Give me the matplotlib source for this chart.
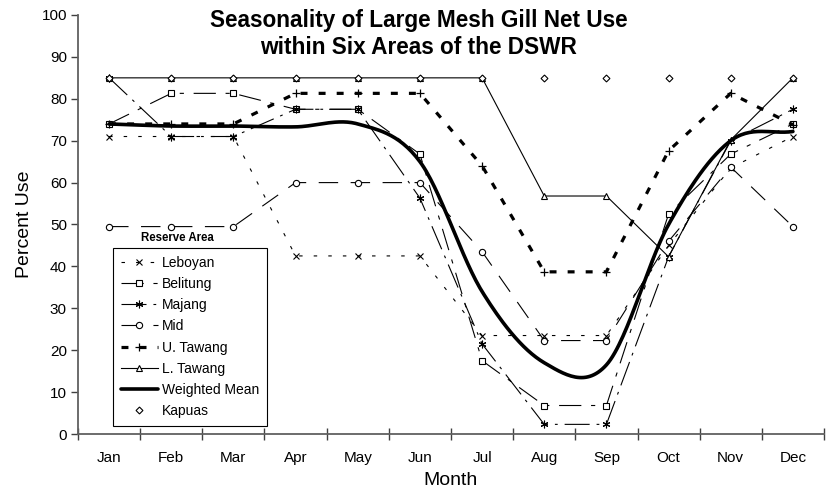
import numpy as np
import matplotlib
matplotlib.use('Agg')
import matplotlib.pyplot as plt
from matplotlib.ticker import FixedLocator, NullFormatter

plt.rcParams['font.family'] = ['Liberation Sans', 'DejaVu Sans']
plt.rcParams['lines.scale_dashes'] = False

months = ['Jan', 'Feb', 'Mar', 'Apr', 'May', 'Jun', 'Jul', 'Aug', 'Sep', 'Oct', 'Nov', 'Dec']
leboyan = [71, 71, 71, 42.5, 42.5, 42.5, 23.5, 23.5, 23.5, 45, 63.5, 71]
belitung = [74, 81.3, 81.3, 77.5, 77.5, 66.8, 17.5, 6.8, 6.8, 52.5, 66.8, 74]
majang = [85, 71, 71, 77.5, 77.5, 56.3, 21.5, 2.3, 2.3, 42.3, 70, 77.5]
mid = [49.5, 49.5, 49.5, 60, 60, 60, 43.5, 22.3, 22.3, 46, 63.7, 49.5]
u_tawang = [74, 74, 74, 81.3, 81.3, 81.3, 64, 38.7, 38.7, 67.6, 81.3, 73.8]
l_tawang = [85, 85, 85, 85, 85, 85, 85, 56.8, 56.8, 42.3, 70.2, 85]
weighted_mean = [74, 73.5, 73.5, 73.3, 74, 65, 34, 17, 16.5, 50, 70, 72.2]
kapuas = [85, 85, 85, 85, 85, 85, 85, 85, 85, 85, 85, 85]

x = np.arange(len(months))


def smooth(xv, yv, n=30):
    """Catmull-Rom style smoothing (like a spreadsheet 'smoothed line')."""
    yv = np.asarray(yv, float)
    xv = np.asarray(xv, float)
    m = np.zeros_like(yv)
    m[1:-1] = (yv[2:] - yv[:-2]) / 2.0
    m[0] = (yv[1] - yv[0])
    m[-1] = (yv[-1] - yv[-2])
    xs, ys = [], []
    for i in range(len(yv) - 1):
        t = np.linspace(0, 1, n, endpoint=False)
        h00 = 2 * t**3 - 3 * t**2 + 1
        h10 = t**3 - 2 * t**2 + t
        h01 = -2 * t**3 + 3 * t**2
        h11 = t**3 - t**2
        ys.append(h00 * yv[i] + h10 * m[i] + h01 * yv[i + 1] + h11 * m[i + 1])
        xs.append(xv[i] + t * (xv[i + 1] - xv[i]))
    xs.append([xv[-1]])
    ys.append([yv[-1]])
    return np.concatenate(xs), np.concatenate(ys)


fig = plt.figure(figsize=(8.29, 4.98), dpi=100)
ax = fig.add_axes([78 / 829, 1 - 434 / 498, (824 - 78) / 829, (434 - 15) / 498])

ms = 4.5
lw = 0.8
h_leb, = ax.plot(x, leboyan, color='black', lw=lw, ls=(0, (2.5, 8)), marker='x',
                 ms=5, mfc='none', mew=0.8, label='Leboyan')
h_bel, = ax.plot(x, belitung, color='black', lw=lw, ls=(0, (16, 7, 3, 7)), marker='s',
                 ms=ms, mfc='white', mew=0.8, label='Belitung')
h_maj, = ax.plot(x, majang, color='black', lw=lw, ls=(0, (18, 5, 2, 5)), marker=(6, 2, 0),
                 ms=5.5, mew=0.8, label='Majang')
h_mid, = ax.plot(x, mid, color='black', lw=lw, ls=(0, (14, 9)), marker='o',
                 ms=ms, mfc='white', mew=0.8, label='Mid')
h_ut, = ax.plot(x, u_tawang, color='black', lw=2.3, ls=(0, (5, 8)), marker='+',
                ms=6, mew=0.9, label='U. Tawang')
h_lt, = ax.plot(x, l_tawang, color='black', lw=lw, ls='-', marker='^',
                ms=ms, mfc='white', mew=0.8, label='L. Tawang')
sx, sy = smooth(x, weighted_mean)
h_wm, = ax.plot(sx, sy, color='black', lw=2.6, ls='-', solid_capstyle='round',
                label='Weighted Mean')
h_kap, = ax.plot(x, kapuas, color='black', ls='none', marker='D',
                 ms=3.5, mfc='white', mew=0.8, label='Kapuas')

ax.set_xlim(-0.5, 11.5)
ax.set_ylim(0, 100)
ax.set_yticks(np.arange(0, 101, 10))
ax.set_xticks(x)
ax.set_xticklabels(months)
ax.xaxis.set_minor_locator(FixedLocator(np.arange(-0.5, 12, 1)))
ax.xaxis.set_minor_formatter(NullFormatter())
ax.tick_params(axis='x', which='major', length=0, pad=12, labelsize=11)
ax.tick_params(axis='x', which='minor', direction='inout', length=8, width=1, color='#404040')
ax.tick_params(axis='y', direction='out', length=5, width=1, color='#404040', labelsize=11, pad=3)

for s in ['top', 'right']:
    ax.spines[s].set_visible(False)
for s in ['left', 'bottom']:
    ax.spines[s].set_color('#606060')
    ax.spines[s].set_linewidth(1.3)

ax.set_ylabel('Percent Use', fontsize=14, labelpad=6)
ax.set_xlabel('Month', fontsize=14, labelpad=5)

fig.text(0.505, 1 - 34 / 498, 'Seasonality of Large Mesh Gill Net Use\nwithin Six Areas of the DSWR',
         ha='center', va='center', fontsize=16.3, fontweight='bold', linespacing=1.25)

leg = ax.legend(handles=[h_leb, h_bel, h_maj, h_mid, h_ut, h_lt, h_wm, h_kap],
                loc='upper left', bbox_to_anchor=(35 / 746, (434 - 248) / 419),
                borderaxespad=0, fontsize=10, frameon=True, fancybox=False,
                edgecolor='black', framealpha=1, handlelength=2.7, handletextpad=0.3,
                labelspacing=0.52, borderpad=0.55)
leg.get_frame().set_linewidth(0.8)
ax.text((177 - 78) / 746, (434 - 238) / 419, 'Reserve Area', transform=ax.transAxes,
        ha='center', va='center', fontsize=8.3, fontweight='bold')

fig.savefig('out.png', dpi=100)
